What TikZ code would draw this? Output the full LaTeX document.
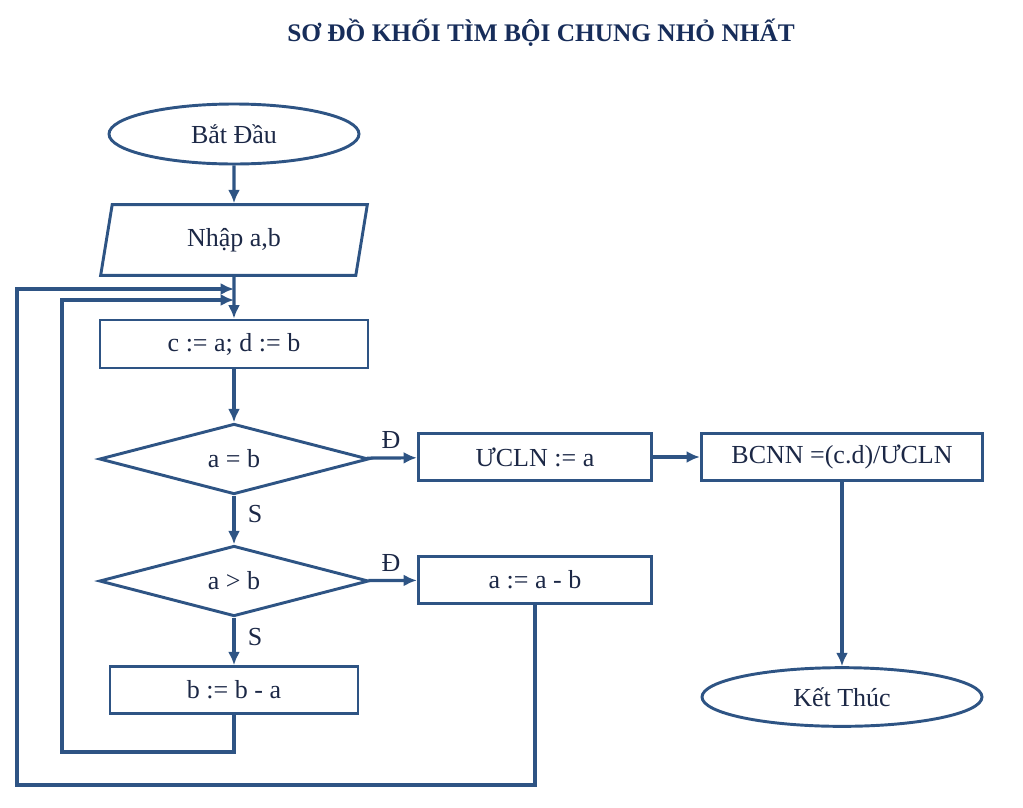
\documentclass[tikz,border=0pt]{standalone}
\usepackage{fontspec}
\setmainfont{Liberation Serif}
\usepackage{tikz}
\usepgflibrary{arrows}
\usetikzlibrary{shapes}
\usetikzlibrary{shapes.geometric}
\usetikzlibrary{arrows.meta}
\usetikzlibrary{positioning}
\definecolor{lineblue}{RGB}{46,84,132}
\definecolor{textnavy}{RGB}{28,40,70}
\definecolor{titlenavy}{RGB}{23,45,90}
\begin{document}
\begin{tikzpicture}[x=0.75pt,y=-0.75pt]
				\tikzset{every node/.style = {text=textnavy, font=\fontsize{19.5}{22}\selectfont}}
				\tikzset{box/.style = {shape=rectangle,draw=lineblue,line width=2.2pt,
						inner sep = 0pt}}
				\tikzset{startend/.style = {shape=ellipse,draw=lineblue,line width=2.2pt,
						inner sep = 0pt}}
				\tikzset{test/.style = {shape=diamond,draw=lineblue,line width=2.2pt,
						inner sep = 0pt}}
				\tikzset{inbox/.style = {shape=trapezium,trapezium left angle=64,
						trapezium right angle=116,trapezium stretches body,
						draw=lineblue,line width=2.2pt,inner sep = 0pt}}
				\tikzset{flow/.style = {draw=lineblue,line width=2.4pt,-{Latex[length=10pt,width=9pt]}}}
				
				\useasboundingbox (0,0) rectangle (1023,807);
				
				% title
				\node[font=\bfseries\fontsize{19}{22}\selectfont,text=titlenavy] (title) at (541,33)
				{SƠ ĐỒ KHỐI TÌM BỘI CHUNG NHỎ NHẤT};
				
				% vertices
				\node[startend,minimum width=187.5pt,minimum height=45pt] (start) at (234,134) {Bắt Đầu};
				\node[inbox,minimum width=200pt,minimum height=53pt] (input) at (234,240) {Nhập a,b};
				\node[box,minimum width=201pt,minimum height=36pt] (init) at (234,344) {c := a; d := b};
				\node[test,minimum width=202pt,minimum height=50pt] (eq) at (234,459) {a = b};
				\node[box,minimum width=175pt,minimum height=35pt] (ucln) at (535,457) {ƯCLN := a};
				\node[box,minimum width=211pt,minimum height=35pt] (bcnn) at (842,457) {BCNN =(c.d)/ƯCLN};
				\node[startend,minimum width=210pt,minimum height=44pt] (stop) at (842,697) {Kết Thúc};
				\node[test,minimum width=202pt,minimum height=50pt] (gt) at (234,581) {a > b};
				\node[box,minimum width=175pt,minimum height=35pt] (suba) at (535,580) {a := a - b};
				\node[box,minimum width=186pt,minimum height=35pt] (subb) at (234,690) {b := b - a};
				
				% labels
				\node (yes1) at (391,440) {Đ};
				\node (yes2) at (391,563) {Đ};
				\node (no1) at (255,514) {S};
				\node (no2) at (255,637) {S};
				
				% loop corners
				\coordinate (innerlow) at (62,752);
				\coordinate (innerin) at (234,300);
				\coordinate (outerlow) at (17,785);
				\coordinate (outerin) at (234,289);
				
				%edges
				\draw[flow] (start) to (input);
				\draw[flow] (input) to (init);
				\draw[flow] (init) to (eq);
				\draw[flow] (eq) to (ucln);
				\draw[flow] (ucln) to (bcnn);
				\draw[flow] (bcnn) to (stop);
				\draw[flow] (eq) to (gt);
				\draw[flow] (gt) to (suba);
				\draw[flow] (gt) to (subb);
				\draw[flow] (subb.south) |- (innerlow) |- (innerin);
				\draw[flow] (suba.south) |- (outerlow) |- (outerin);
				
\end{tikzpicture}
\end{document}
